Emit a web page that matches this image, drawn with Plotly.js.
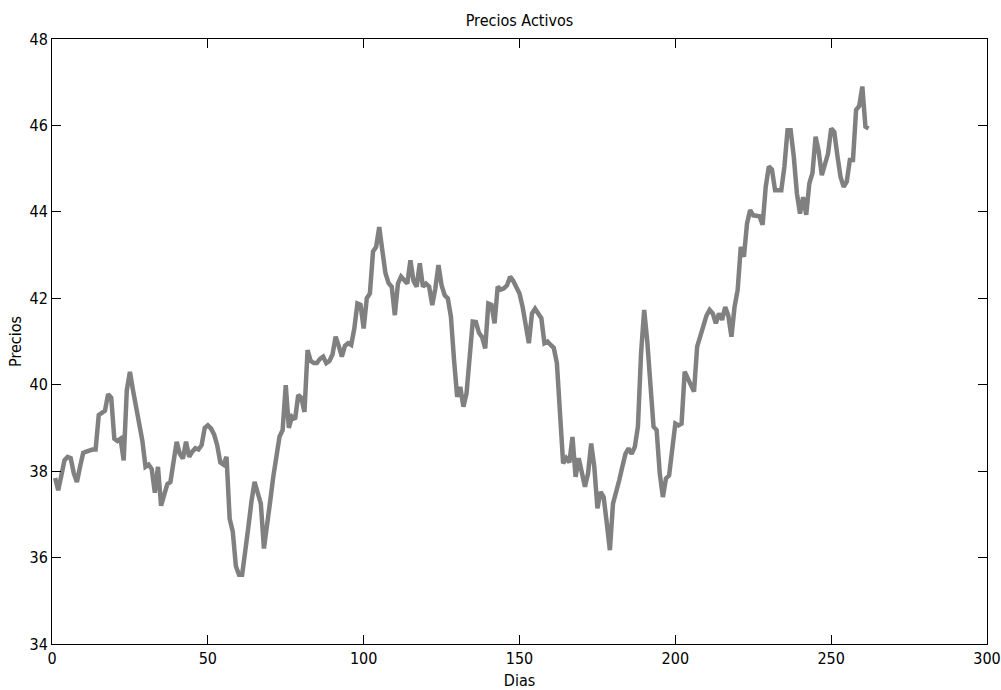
<!DOCTYPE html>
<html>
<head>
<meta charset="utf-8">
<script src="https://cdn.plot.ly/plotly-3.0.1.min.js"></script>
<style>html,body{margin:0;padding:0;background:#fff;}#chart{width:1001px;height:690px;}</style>
</head>
<body>
<div id="chart"></div>
<script>
// Precios, day 1..262
const precios = [
  37.84, 37.56, 37.90, 38.25, 38.33, 38.30, 37.95, 37.75, 38.10, 38.42,
  38.45, 38.48, 38.50, 38.50, 39.30, 39.35, 39.40, 39.78, 39.70, 38.75,
  38.70, 38.75, 38.25, 39.87, 40.30, 39.87, 39.50, 39.10, 38.70, 38.10,
  38.15, 38.05, 37.50, 38.10, 37.20, 37.45, 37.70, 37.75, 38.25, 38.68,
  38.40, 38.29, 38.68, 38.33, 38.45, 38.53, 38.50, 38.60, 39.00, 39.06,
  38.99, 38.85, 38.60, 38.20, 38.15, 38.33, 36.90, 36.60, 35.80, 35.60,
  35.60, 36.25, 36.70, 37.30, 37.75, 37.50, 37.25, 36.21, 36.70, 37.30,
  37.87, 38.40, 38.80, 38.95, 39.99, 39.00, 39.26, 39.20, 39.76, 39.70,
  39.37, 40.80, 40.55, 40.50, 40.50, 40.60, 40.65, 40.50, 40.55, 40.70,
  41.11, 40.90, 40.65, 40.90, 40.96, 40.92, 41.30, 41.88, 41.85, 41.30,
  42.00, 42.11, 43.08, 43.19, 43.65, 43.10, 42.58, 42.35, 42.27, 41.61,
  42.34, 42.50, 42.40, 42.34, 42.88, 42.40, 42.27, 42.81, 42.27, 42.34,
  42.27, 41.84, 42.23, 42.77, 42.30, 42.07, 42.00, 41.57, 40.57, 39.72,
  39.95, 39.49, 39.80, 40.70, 41.46, 41.45, 41.20, 41.10, 40.84, 41.88,
  41.85, 41.42, 42.27, 42.20, 42.23, 42.30, 42.50, 42.40, 42.27, 42.11,
  41.80, 41.40, 40.96, 41.65, 41.76, 41.65, 41.54, 40.96, 41.00, 40.92,
  40.85, 40.50, 39.49, 38.18, 38.30, 38.20, 38.79, 37.87, 38.30, 37.90,
  37.64, 37.95, 38.64, 38.10, 37.14, 37.52, 37.40, 36.80, 36.17, 37.25,
  37.50, 37.79, 38.10, 38.40, 38.53, 38.40, 38.56, 39.03, 40.72, 41.73,
  41.00, 39.95, 39.03, 38.95, 37.95, 37.40, 37.83, 37.90, 38.50, 39.10,
  39.06, 39.10, 40.30, 40.15, 40.00, 39.84, 40.88, 41.10, 41.34, 41.60,
  41.73, 41.65, 41.42, 41.65, 41.50, 41.80, 41.60, 41.11, 41.80, 42.19,
  43.19, 42.96, 43.73, 44.04, 43.92, 43.90, 43.90, 43.70, 44.58, 45.05,
  44.98, 44.50, 44.50, 44.50, 45.05, 45.89, 45.89, 45.28, 44.43, 43.96,
  44.34, 43.93, 44.66, 44.90, 45.74, 45.40, 44.85, 45.10, 45.35, 45.93,
  45.85, 45.30, 44.81, 44.58, 44.70, 45.20, 45.20, 46.36, 46.45, 46.90,
  45.97, 45.93
];
const dias = precios.map((_, i) => i + 1);

const xTicks = [0, 50, 100, 150, 200, 250, 300];
const yTicks = [34, 36, 38, 40, 42, 44, 46, 48];

const fontFam = '"Liberation Sans Narrow", "DejaVu Sans Condensed", "Arial Narrow", sans-serif';
const fs = 16;

const trace = {
  x: dias,
  y: precios,
  type: 'scatter',
  mode: 'lines',
  line: {color: '#808080', width: 4.5},
  hoverinfo: 'skip'
};

const axisCommon = {
  showgrid: false,
  zeroline: false,
  showline: true,
  mirror: 'ticks',
  linecolor: '#000',
  linewidth: 1,
  ticks: 'inside',
  ticklen: 9,
  tickwidth: 1,
  tickcolor: '#000',
  ticklabeloverflow: 'allow',
  tickfont: {family: fontFam, size: fs, color: '#000'},
  fixedrange: true
};

const layout = {
  width: 1001,
  height: 690,
  margin: {l: 52, r: 14, t: 39, b: 46, pad: 0},
  paper_bgcolor: '#fff',
  plot_bgcolor: '#fff',
  showlegend: false,
  font: {family: fontFam, color: '#000'},
  title: {
    text: 'Precios Activos',
    font: {family: fontFam, size: fs, color: '#000'},
    x: 0.5, xref: 'paper',
    y: 1 - 20 / 690, yref: 'container', yanchor: 'middle'
  },
  xaxis: Object.assign({}, axisCommon, {
    range: [0, 300],
    tickmode: 'array',
    tickvals: xTicks,
    ticktext: xTicks.map(String),
    title: {text: 'Dias', font: {family: fontFam, size: fs, color: '#000'}, standoff: 8}
  }),
  yaxis: Object.assign({}, axisCommon, {
    range: [34, 48],
    tickmode: 'array',
    tickvals: yTicks,
    ticktext: yTicks.map(String),
    title: {text: 'Precios', font: {family: fontFam, size: fs, color: '#000'}, standoff: 3}
  })
};

Plotly.newPlot('chart', [trace], layout, {displayModeBar: false, staticPlot: true});
</script>
</body>
</html>
